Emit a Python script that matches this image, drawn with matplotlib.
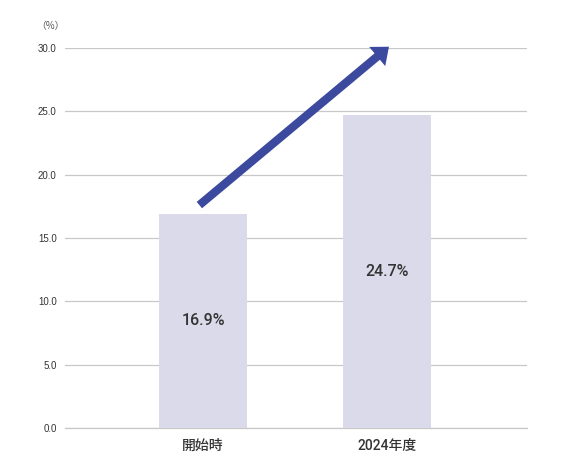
import matplotlib
matplotlib.use('Agg')
import matplotlib.pyplot as plt
from matplotlib.patches import FancyArrowPatch

plt.rcParams['font.family'] = ['Roboto', 'Noto Sans CJK JP', 'DejaVu Sans']

categories = ['開始時', '2024年度']
values = [16.9, 24.7]
yticks = [0, 5, 10, 15, 20, 25, 30]

bar_color = '#dadaea'
arrow_color = '#3b4a9e'
text_color = '#333333'

fig = plt.figure(figsize=(5.64, 4.68), dpi=100)
ax = fig.add_axes([65 / 564, 1 - 428 / 468, 462 / 564, 380 / 468])

x = range(len(categories))
ax.bar(x, values, width=0.48, color=bar_color, zorder=2)

for i, v in enumerate(values):
    ax.text(i, v / 2, '{:.1f}%'.format(v), ha='center', va='center',
            fontsize=11.5, color=text_color, fontweight='medium', zorder=3)

# trend arrow
arrow = FancyArrowPatch((-0.02, 17.6), (1.01, 30.1),
                        arrowstyle='simple,head_width=1.8,head_length=1.1,tail_width=0.6',
                        mutation_scale=10, color=arrow_color, lw=0,
                        shrinkA=0, shrinkB=0, zorder=4, clip_on=False)
ax.add_patch(arrow)

ax.set_xlim(-0.75, 1.76)
ax.set_ylim(0, 30)
ax.set_yticks(yticks)
ax.set_yticklabels(['{:.1f}'.format(t) for t in yticks], fontsize=7, color=text_color,
                   family=['Liberation Sans', 'DejaVu Sans'])
ax.set_xticks(list(x))
ax.set_xticklabels(categories, fontsize=10, color=text_color, fontweight='medium')
ax.tick_params(axis='both', length=0)
ax.tick_params(axis='y', pad=6)
ax.tick_params(axis='x', pad=8)
ax.yaxis.grid(True, color='#c8c8c8', linewidth=0.9, zorder=1)
ax.axhline(0, color='#c8c8c8', linewidth=0.9, zorder=1, clip_on=False)
ax.set_axisbelow(True)
for s in ax.spines.values():
    s.set_visible(False)

fig.text(50 / 564, 1 - 26 / 468, '（%）', fontsize=7, color='#555555',
         ha='center', va='center', family=['Noto Sans CJK JP'])

fig.savefig('out.png', dpi=100)
